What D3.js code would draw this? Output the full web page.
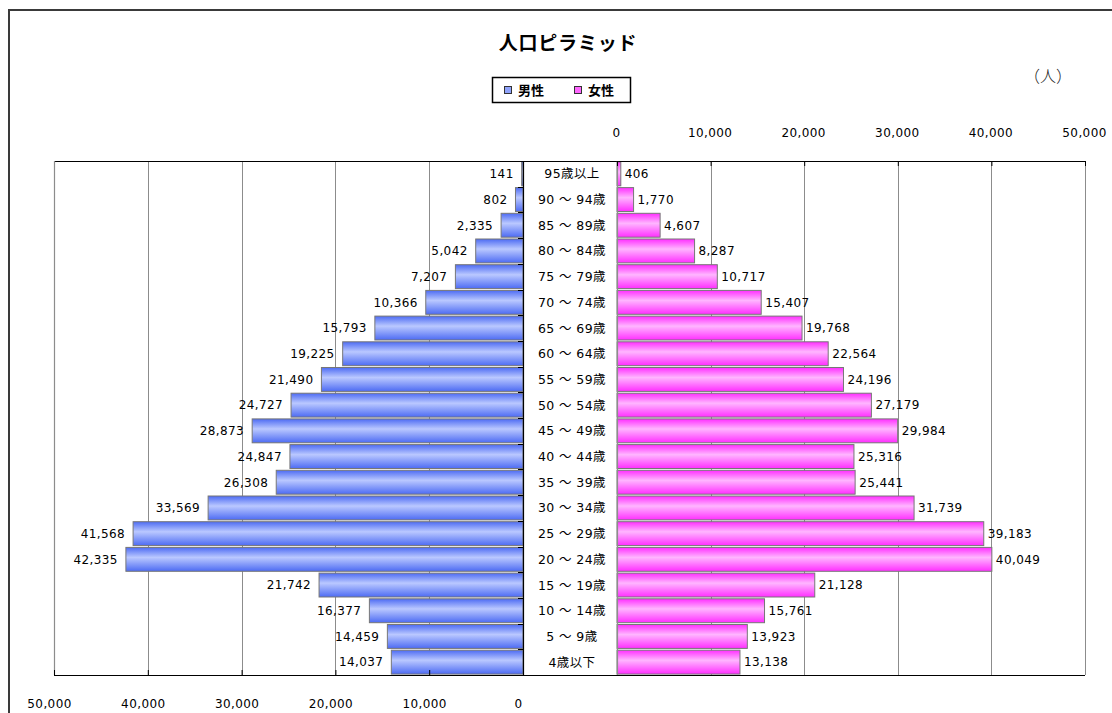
<!DOCTYPE html>
<html>
<head>
<meta charset="utf-8">
<script src="https://cdn.jsdelivr.net/npm/d3@7"></script>
<style>
  html, body { margin: 0; padding: 0; background: #fff; }
  svg { display: block; }
  .num { font-family: "DejaVu Sans", "Liberation Sans", sans-serif; font-size: 12px; letter-spacing: 0.4px; fill: #000; }
  .cat { font-family: "DejaVu Sans", "Noto Sans CJK JP", sans-serif; font-size: 12.5px; letter-spacing: 0.4px; fill: #000; }
  .jp  { font-family: "Noto Sans CJK JP", sans-serif; fill: #000; }
</style>
</head>
<body>
<svg id="chart" width="1112" height="713"></svg>
<script>
// Age groups, oldest at the top
const categories = [
  "95歳以上", "90 ～ 94歳", "85 ～ 89歳", "80 ～ 84歳", "75 ～ 79歳",
  "70 ～ 74歳", "65 ～ 69歳", "60 ～ 64歳", "55 ～ 59歳", "50 ～ 54歳",
  "45 ～ 49歳", "40 ～ 44歳", "35 ～ 39歳", "30 ～ 34歳", "25 ～ 29歳",
  "20 ～ 24歳", "15 ～ 19歳", "10 ～ 14歳", "5 ～ 9歳", "4歳以下"
];
// Population by age group
const male = [
  141, 802, 2335, 5042, 7207, 10366, 15793, 19225, 21490, 24727,
  28873, 24847, 26308, 33569, 41568, 42335, 21742, 16377, 14459, 14037
];
const female = [
  406, 1770, 4607, 8287, 10717, 15407, 19768, 22564, 24196, 27179,
  29984, 25316, 25441, 31739, 39183, 40049, 21128, 15761, 13923, 13138
];
const tickValues = [0, 10000, 20000, 30000, 40000, 50000];
const seriesNames = ["男性", "女性"];
const title = "人口ピラミッド";
const unitLabel = "（人）";

const svg = d3.select("#chart");
const fmt = d3.format(",");

// Layout
const plotTop = 161, plotBottom = 675;
const leftZero = 523, leftMax = 54;
const rightZero = 617, rightMax = 1085;

const xL = d3.scaleLinear().domain([0, 50000]).range([leftZero, leftMax]);
const xR = d3.scaleLinear().domain([0, 50000]).range([rightZero, rightMax]);
const y = d3.scaleBand().domain(categories).range([plotTop, plotBottom])
  .paddingInner(0.07).paddingOuter(0.035);

// Gradients: dark edges, light centre band
const defs = svg.append("defs");
function grad(id, edge, mid) {
  const g = defs.append("linearGradient").attr("id", id)
    .attr("x1", 0).attr("y1", 0).attr("x2", 0).attr("y2", 1);
  g.append("stop").attr("offset", "0%").attr("stop-color", edge);
  g.append("stop").attr("offset", "42%").attr("stop-color", mid);
  g.append("stop").attr("offset", "100%").attr("stop-color", edge);
}
grad("gMale", "#4d6bf3", "#bac8ff");
grad("gFemale", "#ff2eff", "#ffb6ff");

// Outer chart frame
svg.append("rect")
  .attr("x", 9).attr("y", 10).attr("width", 1200).attr("height", 800)
  .attr("fill", "none").attr("stroke", "#3a3a3a").attr("stroke-width", 2);

// Title
svg.append("text").attr("class", "jp")
  .attr("x", 568).attr("y", 50).attr("text-anchor", "middle")
  .attr("font-size", 19).attr("font-weight", "bold").attr("letter-spacing", "0.8px")
  .text(title);

// Legend
const lg = svg.append("g");
lg.append("rect").attr("x", 492.5).attr("y", 77.5).attr("width", 138).attr("height", 25)
  .attr("fill", "#fff").attr("stroke", "#000").attr("stroke-width", 1.5);
const legendItems = [
  { name: seriesNames[0], fill: "#8fa2fb", x: 504 },
  { name: seriesNames[1], fill: "#ff66ff", x: 574 }
];
legendItems.forEach(d => {
  lg.append("rect").attr("x", d.x + 0.5).attr("y", 86.5).attr("width", 7).attr("height", 7)
    .attr("fill", d.fill).attr("stroke", "#333").attr("stroke-width", 1);
  lg.append("text").attr("class", "jp").attr("x", d.x + 14).attr("y", 95)
    .attr("font-size", 13).attr("font-weight", "bold").text(d.name);
});

// Unit label
svg.append("text")
  .attr("x", 1048).attr("y", 82).attr("text-anchor", "middle")
  .attr("font-family", "'Noto Sans CJK JP', sans-serif").attr("font-weight", 300)
  .attr("font-size", 16).attr("fill", "#222")
  .text(unitLabel);

// Vertical gridlines
const grid = svg.append("g").attr("stroke", "#8c8c8c").attr("stroke-width", 1);
tickValues.filter(v => v > 0).forEach(v => {
  grid.append("line").attr("x1", Math.round(xL(v)) + 0.5).attr("x2", Math.round(xL(v)) + 0.5)
    .attr("y1", plotTop).attr("y2", plotBottom);
  grid.append("line").attr("x1", Math.round(xR(v)) + 0.5).attr("x2", Math.round(xR(v)) + 0.5)
    .attr("y1", plotTop).attr("y2", plotBottom);
});

// Bars
svg.append("g").selectAll("rect")
  .data(categories.map((c, i) => ({ c, v: male[i] })))
  .join("rect")
  .attr("x", d => xL(d.v)).attr("y", d => y(d.c))
  .attr("width", d => xL(0) - xL(d.v)).attr("height", y.bandwidth())
  .attr("fill", "url(#gMale)").attr("stroke", "#777").attr("stroke-width", 1);

svg.append("g").selectAll("rect")
  .data(categories.map((c, i) => ({ c, v: female[i] })))
  .join("rect")
  .attr("x", xR(0)).attr("y", d => y(d.c))
  .attr("width", d => xR(d.v) - xR(0)).attr("height", y.bandwidth())
  .attr("fill", "url(#gFemale)").attr("stroke", "#777").attr("stroke-width", 1);

// Value labels
svg.append("g").selectAll("text")
  .data(categories.map((c, i) => ({ c, v: male[i] })))
  .join("text").attr("class", "num")
  .attr("x", d => xL(d.v) - 8).attr("y", d => y(d.c) + y.bandwidth() / 2)
  .attr("dy", "0.36em").attr("text-anchor", "end")
  .text(d => fmt(d.v));

svg.append("g").selectAll("text")
  .data(categories.map((c, i) => ({ c, v: female[i] })))
  .join("text").attr("class", "num")
  .attr("x", d => xR(d.v) + 4).attr("y", d => y(d.c) + y.bandwidth() / 2)
  .attr("dy", "0.36em").attr("text-anchor", "start")
  .text(d => fmt(d.v));

// Category labels in the centre column
svg.append("g").selectAll("text")
  .data(categories)
  .join("text").attr("class", "cat")
  .attr("x", 572).attr("y", d => y(d) + y.bandwidth() / 2)
  .attr("dy", "0.36em").attr("text-anchor", "middle")
  .text(d => d);

// Frame lines of the plot area
const frame = svg.append("g").attr("stroke-width", 1.2);
frame.append("line").attr("x1", leftMax).attr("x2", rightMax).attr("y1", plotTop + 0.5).attr("y2", plotTop + 0.5).attr("stroke", "#000");
frame.append("line").attr("x1", leftMax).attr("x2", rightMax).attr("y1", plotBottom + 0.5).attr("y2", plotBottom + 0.5).attr("stroke", "#000");
frame.append("line").attr("x1", leftZero + 0.5).attr("x2", leftZero + 0.5).attr("y1", plotTop).attr("y2", plotBottom).attr("stroke", "#000");
frame.append("line").attr("x1", rightZero + 0.5).attr("x2", rightZero + 0.5).attr("y1", plotTop).attr("y2", plotBottom).attr("stroke", "#8c8c8c");
frame.append("line").attr("x1", leftMax + 0.5).attr("x2", leftMax + 0.5).attr("y1", plotTop).attr("y2", plotBottom).attr("stroke", "#8c8c8c");

// Category axis ticks at band boundaries
const step = y.step();
const boundaries = categories.slice(1).map(c => y(c) - step * y.paddingInner() / 2);
svg.append("g").selectAll("line").data(boundaries).join("line")
  .attr("x1", leftZero - 5).attr("x2", leftZero)
  .attr("y1", d => Math.round(d) + 0.5).attr("y2", d => Math.round(d) + 0.5)
  .attr("stroke", "#000");

// Value axes: right panel labelled on top, left panel labelled at bottom
const axTop = svg.append("g").attr("transform", `translate(0,${plotTop})`)
  .call(d3.axisTop(xR).tickValues(tickValues).tickFormat(fmt)
    .tickSizeInner(-5).tickSizeOuter(0).tickPadding(24));
const axBot = svg.append("g").attr("transform", `translate(0,${plotBottom})`)
  .call(d3.axisBottom(xL).tickValues(tickValues).tickFormat(fmt)
    .tickSizeInner(-5).tickSizeOuter(0).tickPadding(24));
[axTop, axBot].forEach(ax => {
  ax.select(".domain").remove();
  ax.selectAll(".tick line").attr("stroke", "#000");
  ax.selectAll(".tick text").attr("class", "num").attr("fill", "#000")
    .attr("font-family", null).attr("font-size", null);
});
axBot.selectAll(".tick text").attr("dx", -5);
axTop.selectAll(".tick text").attr("dx", -1);
</script>
</body>
</html>
